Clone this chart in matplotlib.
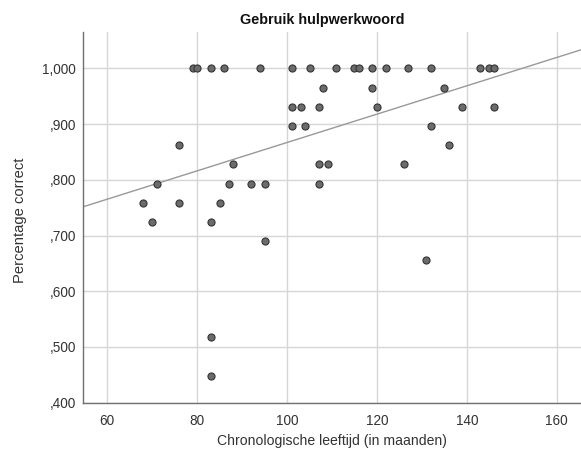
import numpy as np
import matplotlib
matplotlib.use("Agg")
import matplotlib.pyplot as plt

# Leeftijd (maanden) en percentage correct
leeftijd = [79, 80, 83, 86, 94, 101, 105, 111, 115, 116, 119, 122, 127, 132, 143, 145, 146,
            108, 119, 135,
            101, 103, 107, 120, 139, 146,
            101, 104, 132,
            76, 136,
            88, 107, 109, 126,
            71, 87, 92, 95, 107,
            68, 76, 85,
            70, 83,
            95,
            131,
            83,
            83]
correct = [1.0] * 17 + \
          [28/29] * 3 + \
          [27/29] * 6 + \
          [26/29] * 3 + \
          [25/29] * 2 + \
          [24/29] * 4 + \
          [23/29] * 5 + \
          [22/29] * 3 + \
          [21/29] * 2 + \
          [20/29] + \
          [19/29] + \
          [15/29] + \
          [13/29]

x_ticks = [60, 80, 100, 120, 140, 160]
y_ticks = [0.4, 0.5, 0.6, 0.7, 0.8, 0.9, 1.0]
y_tick_labels = [",400", ",500", ",600", ",700", ",800", ",900", "1,000"]

plt.rcParams['font.family'] = ['Liberation Sans', 'DejaVu Sans']

fig = plt.figure(figsize=(5.81, 4.5), dpi=100)
ax = fig.add_axes([0.1423, 0.1051, 0.8577, 0.8245])

ax.set_xlim(54.53, 165.4)
ax.set_ylim(0.4, 1.0657)
ax.set_xticks(x_ticks)
ax.set_yticks(y_ticks)
ax.set_yticklabels(y_tick_labels)
ax.tick_params(length=0, labelsize=9.8, labelcolor='#333333')
ax.tick_params(axis='x', pad=8)
ax.tick_params(axis='y', pad=5)

ax.grid(True, color='#d6d6d6', linewidth=1.0)
ax.set_axisbelow(True)
for side in ['top', 'right']:
    ax.spines[side].set_visible(False)
for side in ['left', 'bottom']:
    ax.spines[side].set_color('#707070')
    ax.spines[side].set_linewidth(1.0)

# lineaire fitlijn over alle punten
b, a = np.polyfit(leeftijd, correct, 1)
xs = np.array(ax.get_xlim())
ax.plot(xs, a + b * xs, color='#999999', linewidth=1.0, zorder=2)

ax.scatter(leeftijd, correct, s=26, facecolor='#6b6b6b', edgecolor='#333333',
           linewidth=0.8, zorder=3)

fig.text(0.554, 0.956, "Gebruik hulpwerkwoord", ha='center', va='center',
         fontsize=10.4, fontweight='bold', color='#111111')
fig.text(0.571, 0.021, "Chronologische leeftijd (in maanden)", ha='center',
         va='center', fontsize=10.1, color='#333333')
fig.text(0.034, 0.51, "Percentage correct", ha='center', va='center',
         rotation=90, fontsize=10.6, color='#333333')

fig.savefig("out.png", dpi=100)
